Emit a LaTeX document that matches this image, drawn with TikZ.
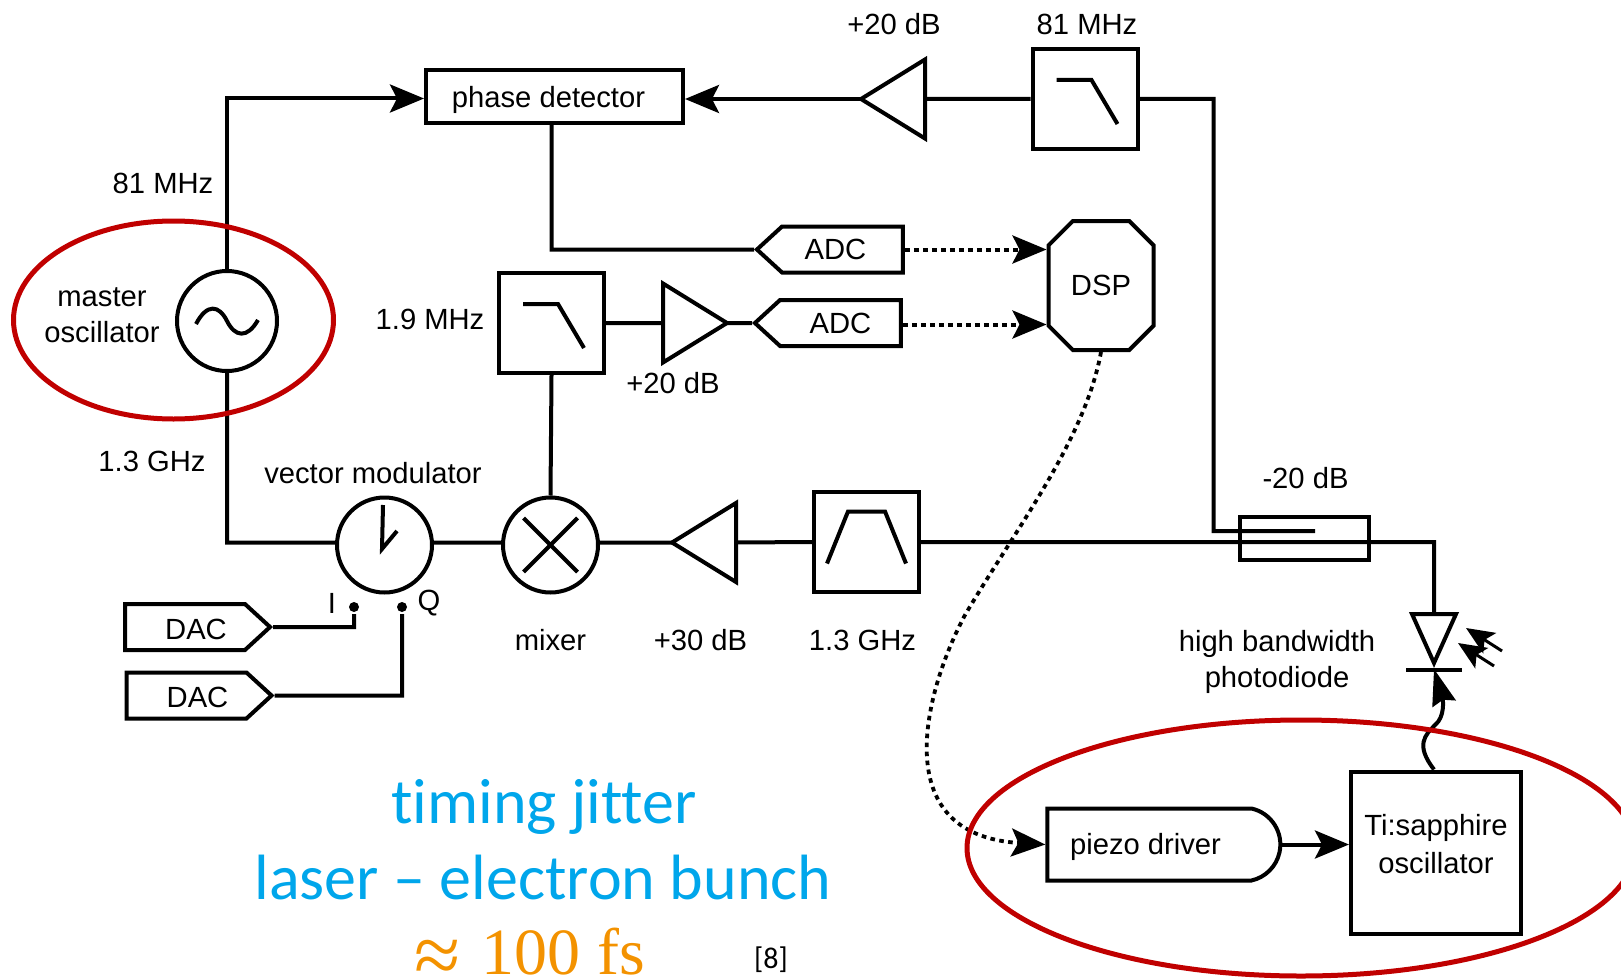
\documentclass[tikz,border=0pt]{standalone}
\usepackage{fontspec}
\usepackage{xcolor}
\usetikzlibrary{arrows.meta, shapes.geometric, shapes.symbols, shapes.misc, positioning}
\setmainfont{Liberation Sans}
\newfontfamily\jitterfont[Ligatures=NoCommon]{Carlito}
\newfontfamily\fsfont{Liberation Serif}
\definecolor{MarkRed}{HTML}{C00000}
\definecolor{JitterBlue}{HTML}{00A6EB}
\definecolor{JitterOrange}{HTML}{F39200}

\begin{document}
\begin{tikzpicture}[x=0.5pt, y=-0.5pt, on grid, line width=2pt,
    sigtip/.style={-{Stealth[length=17pt, width=14pt, inset=3.5pt]}},
    wire/.style={draw, line join=miter},
    dotwire/.style={draw, sigtip, dash pattern=on 2.3pt off 2.2pt},
    lbl/.style={inner sep=0pt, align=center, font=\fontsize{14.6}{18}\selectfont},
    block/.style={rectangle, draw, inner sep=0pt, font=\fontsize{14.6}{18}\selectfont, align=center},
    filterbox/.style={block, minimum width=52.5pt, minimum height=50pt},
    round/.style={circle, draw, inner sep=0pt, minimum size=47.5pt},
    amp/.style={isosceles triangle, isosceles triangle stretches, draw, inner sep=0pt, outer sep=0pt, minimum width=39.5pt, minimum height=32pt},
    sigbox/.style={signal, signal from=nowhere, signal pointer angle=85, draw, inner sep=0pt, minimum height=23pt, font=\fontsize{14.6}{18}\selectfont},
    pin/.style={circle, fill=black, inner sep=0pt, minimum size=5pt},
    ring/.style={ellipse, draw=MarkRed, line width=2.5pt, inner sep=0pt},
    bigtext/.style={inner sep=0pt, anchor=base, text=JitterBlue, font=\jitterfont\fontsize{32}{34}\selectfont}]

    \clip (0,0) rectangle (1621,979);

    \node[round, minimum size=50pt] (MO) at (227,321) {};
    \node[block, above right=112.25pt and 163.75pt of MO, minimum width=128.5pt, minimum height=26.5pt, text height=14.5pt] (PD) {phase detector\hspace{6pt}};
    \node[filterbox, below=113.25pt of PD, xshift=-1.5pt] (LP1) {};
    \node[filterbox, right=265.25pt of PD, yshift=-1.25pt] (LP2) {};
    \node[round, below right=112pt and 78.75pt of MO] (VM) {};
    \node[round, right=83pt of VM] (MX) {};
    \node[filterbox, right=158pt of MX, yshift=1.5pt] (BP) {};
    \node[block, right=219pt of BP, yshift=2pt, minimum width=64.5pt, minimum height=21.5pt] (CP) {};
    \node[block, below right=157.25pt and 65.75pt of CP, minimum width=85pt, minimum height=81pt, font=\fontsize{14.6}{19}\selectfont, text depth=9pt] (TS) {Ti:sapphire\\oscillator};
    \node[rounded rectangle, rounded rectangle left arc=none, rounded rectangle arc length=155, draw, inner sep=0pt, minimum width=116.5pt, minimum height=36pt, text height=13pt, font=\fontsize{14.6}{18}\selectfont, left=137pt of TS, yshift=4pt] (PZ) {\hspace{-16.5pt}piezo driver};
    \node[chamfered rectangle, chamfered rectangle xsep=7.5pt, chamfered rectangle ysep=7pt, draw, inner sep=0pt, minimum width=52.5pt, minimum height=64.5pt, font=\fontsize{14.6}{18}\selectfont, right=274.75pt of LP1, yshift=18.75pt] (DSP) {DSP};

    \node[sigbox, signal to=west, minimum width=73pt, right=144.5pt of LP1] (ADC2) {ADC};
    \node[sigbox, signal to=west, minimum width=73pt, above=36.75pt of ADC2, xshift=1pt] (ADC1) {\hspace{-7pt}ADC};
    \node[sigbox, signal to=east, minimum width=72.5pt, text height=12.5pt, below left=41pt and 99.75pt of VM] (DAC1) {\hspace{11pt}DAC};
    \node[sigbox, signal to=east, minimum width=72.5pt, text height=12.5pt, below=34.25pt of DAC1, xshift=0.75pt] (DAC2) {\hspace{11pt}DAC};

    \node[amp, anchor=apex] (A1) at (727,323) {};
    \node[amp, anchor=apex, shape border rotate=180] (A2) at (861,99) {};
    \node[amp, anchor=apex, shape border rotate=180] (A3) at (672,542.5) {};
    \node[amp, anchor=apex, shape border rotate=270, minimum width=22pt, minimum height=24.5pt] (PDi) at (1434,663) {};

    \node[pin, below left=31pt and 15.25pt of VM] (Ipin) {};
    \node[pin, right=24pt of Ipin] (Qpin) {};
    \coordinate (Tap) at (1315,531);

    \node[lbl, left=62.5pt of MO, yshift=3pt] (Mlbl) {master\\oscillator};
    \node[lbl, above left=69pt and 32pt of MO] (Flbl1) {81 MHz};
    \node[lbl, below left=70pt and 37.5pt of MO] (Flbl2) {1.3 GHz};
    \node[lbl, left=60.75pt of LP1, yshift=2pt] (Flbl3) {1.9 MHz};
    \node[lbl, below right=30pt and 60.75pt of LP1] (Glbl1) {+20 dB};
    \node[lbl, above=37.5pt of LP2, xshift=1pt] (Flbl4) {81 MHz};
    \node[lbl, left=96.5pt of Flbl4] (Glbl2) {+20 dB};
    \node[lbl, above=36pt of VM, xshift=-5.75pt] (Vlbl) {vector modulator};
    \node[lbl, left=11pt of Ipin, yshift=2pt] (Ilbl) {I};
    \node[lbl, right=13.5pt of Qpin, yshift=2pt] (Qlbl) {Q};
    \node[lbl, below=47.75pt of MX] (Xlbl) {mixer};
    \node[lbl, right=75pt of Xlbl] (Glbl3) {+30 dB};
    \node[lbl, right=81pt of Glbl3] (Flbl5) {1.3 GHz};
    \node[lbl, above=29.75pt of CP, xshift=0.5pt] (Glbl4) {-20 dB};
    \node[lbl, below left=62pt and 13.75pt of CP] (Dlbl) {high bandwidth\\photodiode};

    \path[wire]
    (MO.south) |- ([yshift=1.2pt]VM.west)
    ([yshift=1.2pt]VM.east) -- ([yshift=1.2pt]MX.west)
    ([yshift=1.2pt]MX.east) -- (A3.apex)
    (A3.lower side) -- (BP.west)
    (BP.east) -| (PDi.lower side)
    (LP2.east) -- ++(37pt,0) |- (Tap)
    (A2.lower side) -- (LP2.west)
    (PD.south -| LP1) |- (ADC1.west)
    (LP1.east) -- (A1.lower side)
    (A1.apex) -- (ADC2.west)
    (LP1.south) -- (MX.north)
    (DAC1.east) -| (Ipin)
    (DAC2.east) -| (Qpin)
    ;
    \draw[sigtip] (MO.north) |- ([yshift=-1pt]PD.west);
    \draw[sigtip] (A2.apex) -- (A2.apex -| PD.east);
    \draw[sigtip] (PZ.east) -- (PZ.east -| TS.west);

    \draw[dotwire] (ADC1.east) -- (ADC1.east -| DSP.west);
    \draw[dotwire] ([yshift=-0.75pt]ADC2.east) -- ([yshift=-0.75pt]ADC2.east -| DSP.west);
    \draw[dotwire, line width=1.9pt] (DSP.south) .. controls (1085,440) and (1015,530) .. (965,615) .. controls (925,690) and (885,835) .. (PZ.west);

    \foreach \f in {LP1,LP2}
        \draw ([shift={(-28.5,-19)}]\f.center) -- ([shift={(6.5,-19)}]\f.center) -- ([shift={(32.5,25)}]\f.center);
    \draw ([shift={(-39.5,21.5)}]BP.center) -- ([shift={(-18.5,-30.5)}]BP.center) -- ([shift={(18.5,-30.5)}]BP.center) -- ([shift={(39.5,21.5)}]BP.center);
    \draw ([shift={(-31,3)}]MO.center) .. controls ([shift={(-20,-18)}]MO.center) and ([shift={(-8,-16)}]MO.center) .. (MO.center) .. controls ([shift={(8,16)}]MO.center) and ([shift={(20,18)}]MO.center) .. ([shift={(31,-1)}]MO.center);
    \draw ([shift={(-1.5,-40)}]VM.center) -- ([shift={(-2.5,4)}]VM.center) -- ([shift={(12.5,-14)}]VM.center);
    \draw ([shift={(-27,-27)}]MX.center) -- ([shift={(27,27)}]MX.center);
    \draw ([shift={(27,-27)}]MX.center) -- ([shift={(-27,27)}]MX.center);

    \draw ([shift={(-28,7)}]PDi.apex) -- ([shift={(28,7)}]PDi.apex);
    \draw[-{Stealth[length=18pt, width=12pt, inset=2pt]}] (TS.north -| PDi.apex) .. controls (1415,745) and (1425,735) .. (1435,725) .. controls (1445,717) and (1443,700) .. ([yshift=-3pt]PDi.apex);
    \foreach \dx/\dy in {0/0,-8/15}
        \draw[line width=1.5pt, -{Stealth[length=14pt, width=12pt, inset=3pt]}, shift={(\dx,\dy)}] (1502,651) -- (1466,628);

    \node[ring, minimum width=160pt, minimum height=99pt] (Ring1) at (173.5,320) {};
    \node[ring, minimum width=334pt, minimum height=128pt] (Ring2) at (1301,848) {};

    \node[bigtext] (Jit1) at (544,823) {timing jitter};
    \node[bigtext] (Jit2) at (543,899) {laser – electron bunch};
    \node[bigtext, text=JitterOrange, font=\fsfont\fontsize{33}{36}\selectfont] (Jit3) at (530,974) {\raisebox{-4.7pt}{\fontsize{42}{44}\selectfont ≈}\hspace{10.5pt}100 fs};
    \node[inner sep=0pt, font=\jitterfont\fontsize{15}{17}\selectfont] (Ref) at (771,960) {[8]};

\end{tikzpicture}
\end{document}
